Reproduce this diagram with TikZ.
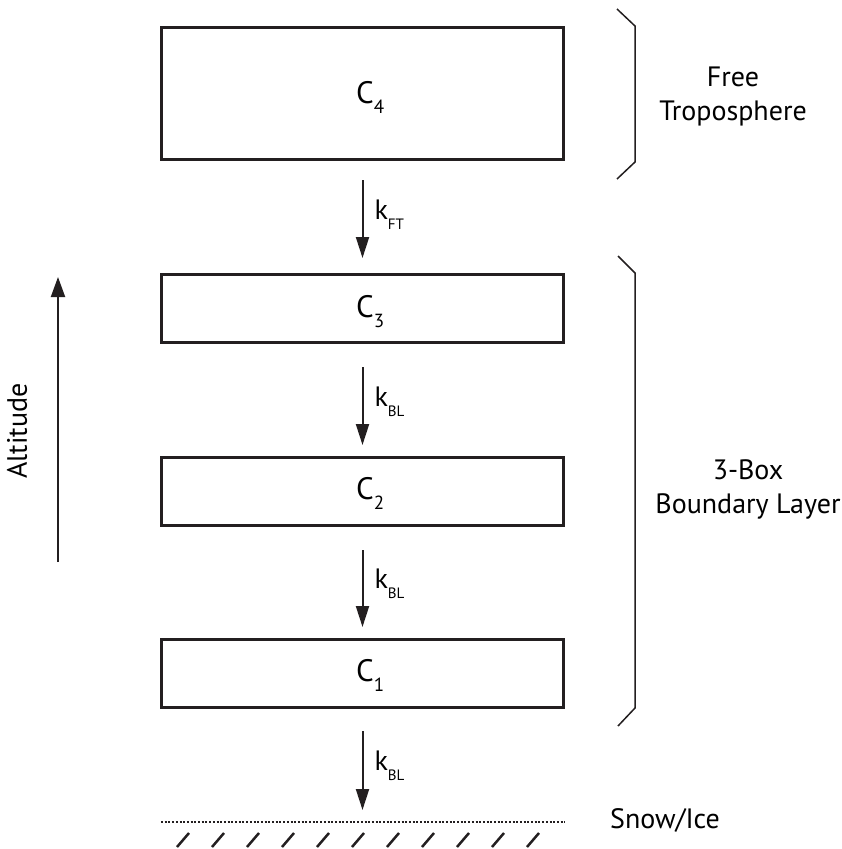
\documentclass[tikz,border=0pt]{standalone}
\usepackage{fontspec}
\setmainfont{PT Sans}
\usetikzlibrary{arrows.meta}
\definecolor{ink}{HTML}{231F20}
\newcommand\clabel[2]{\fontsize{31}{31}\selectfont #1\raisebox{-10pt}{\fontsize{19}{19}\selectfont #2}}
\newcommand\klabel[1]{\fontsize{28}{28}\selectfont k\raisebox{-10pt}{\fontsize{15}{15}\selectfont #1}}
\begin{document}
\begin{tikzpicture}[x=1pt,y=-1pt,
  box/.style={draw=ink,line width=3pt,minimum width=402pt,inner sep=0pt},
  clbl/.style={anchor=base west,inner sep=0pt,text=black},
  flux/.style={draw=ink,line width=2pt,-{Triangle[length=21pt,width=13pt]}},
  klbl/.style={anchor=base west,inner sep=0pt,xshift=11pt,text=black},
  brace/.style={draw=ink,line width=1.5pt,line join=miter},
  side/.style={align=center,font=\fontsize{28}{34}\selectfont,inner sep=0pt,text=black},
  ground/.style={draw=ink,line width=2.5pt,dash pattern=on 2pt off 1.7pt},
  hatch/.style={draw=ink,line width=2.5pt},
]
\useasboundingbox (0,0) rectangle (841,849);

% boxes
\node[box,minimum height=132pt] (c4) at (362.5,93.5) {};
\node[box,minimum height=68pt] (c3) at (362.5,308.5) {};
\node[box,minimum height=68pt] (c2) at (362.5,491.5) {};
\node[box,minimum height=68pt] (c1) at (362.5,673.5) {};

\node[clbl] (t4) at (356,103) {\clabel{C}{4}};
\node[clbl] (t3) at (356,317) {\clabel{C}{3}};
\node[clbl] (t2) at (356,499) {\clabel{C}{2}};
\node[clbl] (t1) at (356,681) {\clabel{C}{1}};

\coordinate (gnd) at (362.5,822);

% fluxes
\draw[flux] ([yshift=-19pt]c4.south) -- ([yshift=15pt]c3.north)
  node[midway,klbl] (kft) {\klabel{FT}};
\draw[flux] ([yshift=-23pt]c3.south) -- ([yshift=11pt]c2.north)
  node[midway,klbl] (kbl1) {\klabel{BL}};
\draw[flux] ([yshift=-23pt]c2.south) -- ([yshift=11pt]c1.north)
  node[midway,klbl] (kbl2) {\klabel{BL}};
\draw[flux] ([yshift=-22pt]c1.south) -- ([yshift=12pt]gnd)
  node[midway,klbl] (kbl3) {\klabel{BL}};

% ground
\draw[ground] (161,822) -- (565,822);
\foreach \i in {0,...,10} \draw[hatch] ({177+35*\i},847) -- ({189+35*\i},833);
\node[anchor=base,inner sep=0pt,font=\fontsize{28}{28}\selectfont] (snow) at (665,828) {Snow/Ice};

% braces
\draw[brace] (617,9) -- (635,26) -- (635,162) -- (617,179);
\draw[brace] (618,256) -- (635,273) -- (635,708) -- (618,726);
\node[side] (ft) at (733,96.5) {Free\\Troposphere};
\node[side] (bl) at (748,489.5) {3-Box\\Boundary Layer};

% altitude
\coordinate (altbot) at (58,562);
\coordinate (alttop) at (58,277);
\draw[draw=ink,line width=2pt,-{Triangle[length=20pt,width=14pt]}] (altbot) -- (alttop);
\node[rotate=90,anchor=base,inner sep=0pt,font=\fontsize{28}{28}\selectfont] (alt) at (27,431) {Altitude};
\end{tikzpicture}
\end{document}
